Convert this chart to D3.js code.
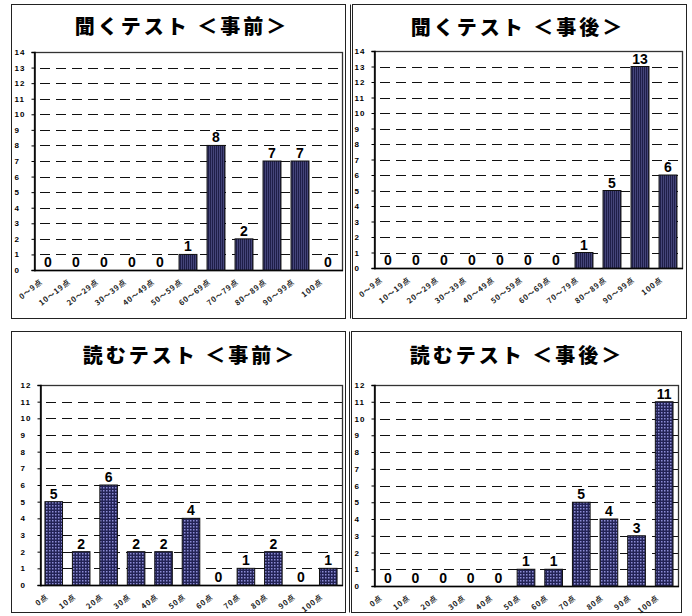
<!DOCTYPE html>
<html>
<head>
<meta charset="utf-8">
<script src="https://cdn.jsdelivr.net/npm/d3@7"></script>
<style>
  body { margin: 0; background: #fff; }
  svg { display: block; }
</style>
</head>
<body>
<div id="chart"></div>
<script>
// --- data ---
var LISTEN_CATS = ["0～9点", "10～19点", "20～29点", "30～39点", "40～49点", "50～59点",
    "60～69点", "70～79点", "80～89点", "90～99点", "100点"];
var READ_CATS = ["0点", "10点", "20点", "30点", "40点", "50点", "60点", "70点", "80点", "90点", "100点"];
var LISTEN_PRE = [0, 0, 0, 0, 0, 1, 8, 2, 7, 7, 0];
var LISTEN_POST = [0, 0, 0, 0, 0, 0, 0, 1, 5, 13, 6];
var READ_PRE = [5, 2, 6, 2, 2, 4, 0, 1, 2, 0, 1];
var READ_POST = [0, 0, 0, 0, 0, 1, 1, 5, 4, 3, 11];

// --- layout ---
var PANELS = [
    {title: "聞くテスト ＜事前＞", cats: LISTEN_CATS, vals: LISTEN_PRE, yMax: 14, fill: "url(#stripes)",
        box: [11, 4, 345, 318], plot: [34, 52, 342, 270], titleX: 182, titleY: 34, dbl: false},
    {title: "聞くテスト ＜事後＞", cats: LISTEN_CATS, vals: LISTEN_POST, yMax: 14, fill: "url(#stripes)",
        box: [352, 4, 686, 318], plot: [374, 51, 682, 268], titleX: 518, titleY: 35, dbl: true},
    {title: "読むテスト ＜事前＞", cats: READ_CATS, vals: READ_PRE, yMax: 12, fill: "url(#dots)",
        box: [11, 331, 345, 612], plot: [40, 385, 342, 585], titleX: 190, titleY: 363, dbl: false},
    {title: "読むテスト ＜事後＞", cats: READ_CATS, vals: READ_POST, yMax: 12, fill: "url(#dots)",
        box: [351, 331, 681, 612], plot: [374, 385, 678, 586], titleX: 517, titleY: 363, dbl: true}
];

var W = 692, H = 616;
var svg = d3.select("#chart").append("svg")
    .attr("width", W)
    .attr("height", H);

var defs = svg.append("defs");
// vertical stripe fill (listening)
var stripes = defs.append("pattern")
    .attr("id", "stripes")
    .attr("patternUnits", "userSpaceOnUse")
    .attr("width", 2).attr("height", 4);
stripes.append("rect").attr("width", 2).attr("height", 4).attr("fill", "#1e1e48");
stripes.append("rect").attr("x", 1).attr("width", 1).attr("height", 4).attr("fill", "#45457a");
// dotted fill (reading)
var dots = defs.append("pattern")
    .attr("id", "dots")
    .attr("patternUnits", "userSpaceOnUse")
    .attr("width", 3).attr("height", 3);
dots.append("rect").attr("width", 3).attr("height", 3).attr("fill", "#232356");
dots.append("rect").attr("x", 1).attr("y", 1).attr("width", 1.5).attr("height", 1.5).attr("fill", "#8c8cd6");

const drawPanel = (p) => {
    let g = svg.append("g");
    let bx = p.box;
    // outer frame
    g.append("rect")
        .attr("x", bx[0] + 0.5).attr("y", bx[1] + 0.5)
        .attr("width", bx[2] - bx[0]).attr("height", bx[3] - bx[1])
        .attr("fill", "none")
        .attr("stroke", "#222")
        .attr("stroke-width", 1);
    if (p.dbl) {
        g.append("line")
            .attr("x1", bx[0] - 1.5).attr("x2", bx[0] - 1.5)
            .attr("y1", bx[1] + 0.5).attr("y2", bx[3] + 0.5)
            .attr("stroke", "#222");
    }

    // title
    g.append("text")
        .attr("x", p.titleX).attr("y", p.titleY)
        .attr("text-anchor", "middle")
        .attr("font-family", "'Noto Sans CJK JP', sans-serif")
        .attr("font-weight", 900)
        .attr("font-size", 20)
        .attr("letter-spacing", 3)
        .text(p.title);

    let pl = p.plot;
    let x = d3.scaleBand().domain(p.cats).range([pl[0], pl[2]]).paddingInner(0.36).paddingOuter(0.18);
    let y = d3.scaleLinear().domain([0, p.yMax]).range([pl[3], pl[1]]);

    // dashed grid lines
    g.append("g")
        .selectAll("line")
        .data(d3.range(1, p.yMax))
        .join("line")
            .attr("x1", pl[0]).attr("x2", pl[2])
            .attr("y1", (d) => Math.round(y(d)) + 0.5)
            .attr("y2", (d) => Math.round(y(d)) + 0.5)
            .attr("stroke", "#111")
            .attr("stroke-width", 1.2)
            .attr("stroke-dasharray", "10,6")
            .attr("stroke-dashoffset", -6);

    // plot frame
    g.append("rect")
        .attr("x", pl[0] + 0.5).attr("y", Math.round(y(p.yMax)) + 0.5)
        .attr("width", pl[2] - pl[0]).attr("height", Math.round(y(0)) - Math.round(y(p.yMax)))
        .attr("fill", "none")
        .attr("stroke", "#333")
        .attr("stroke-width", 1.3);

    // y axis
    let yAxis = g.append("g")
        .attr("transform", "translate(" + (pl[0] + 0.5) + ",0)")
        .call(d3.axisLeft(y).tickValues(d3.range(0, p.yMax + 1)).tickSize(3).tickFormat(d3.format("d")));
    yAxis.select(".domain").attr("stroke", "#000").attr("stroke-width", 1.5);
    yAxis.selectAll(".tick line").attr("stroke", "#000");
    yAxis.selectAll(".tick text")
        .attr("x", -20)
        .attr("text-anchor", "start")
        .attr("font-family", "'Liberation Sans', Arial, sans-serif")
        .attr("font-weight", "bold")
        .attr("font-size", 8)
        .attr("letter-spacing", 1)
        .attr("fill", "#000");

    // x baseline
    g.append("line")
        .attr("x1", pl[0]).attr("x2", pl[2] + 1)
        .attr("y1", Math.round(y(0)) + 0.5).attr("y2", Math.round(y(0)) + 0.5)
        .attr("stroke", "#000")
        .attr("stroke-width", 1.5);

    // bars
    let bars = p.cats.map((c, i) => ({cat: c, val: p.vals[i]}));
    g.append("g")
        .selectAll("rect")
        .data(bars.filter((d) => d.val > 0))
        .join("rect")
            .attr("x", (d) => x(d.cat))
            .attr("y", (d) => y(d.val))
            .attr("width", x.bandwidth())
            .attr("height", (d) => y(0) - y(d.val))
            .attr("fill", p.fill)
            .attr("stroke", "#111")
            .attr("stroke-width", 1);

    // value labels
    g.append("g")
        .selectAll("text")
        .data(bars)
        .join("text")
            .attr("x", (d) => x(d.cat) + x.bandwidth() / 2)
            .attr("y", (d) => y(d.val) - 3)
            .attr("text-anchor", "middle")
            .attr("font-family", "'Liberation Sans', Arial, sans-serif")
            .attr("font-weight", "bold")
            .attr("font-size", 14)
            .text((d) => d.val);

    // x tick labels, rotated
    g.append("g")
        .selectAll("text")
        .data(p.cats)
        .join("text")
            .attr("transform", (d) => "translate(" + (x(d) + x.bandwidth() / 2 - 5) + "," + (y(0) + 13) + ") rotate(-38)")
            .attr("text-anchor", "end")
            .attr("font-family", "'Noto Sans CJK JP', sans-serif")
            .attr("font-weight", "bold")
            .attr("font-size", 7.5)
            .attr("letter-spacing", 0.8)
            .attr("fill", "#222")
            .text((d) => d);
}

PANELS.forEach((p) => {
    drawPanel(p);
});
</script>
</body>
</html>
